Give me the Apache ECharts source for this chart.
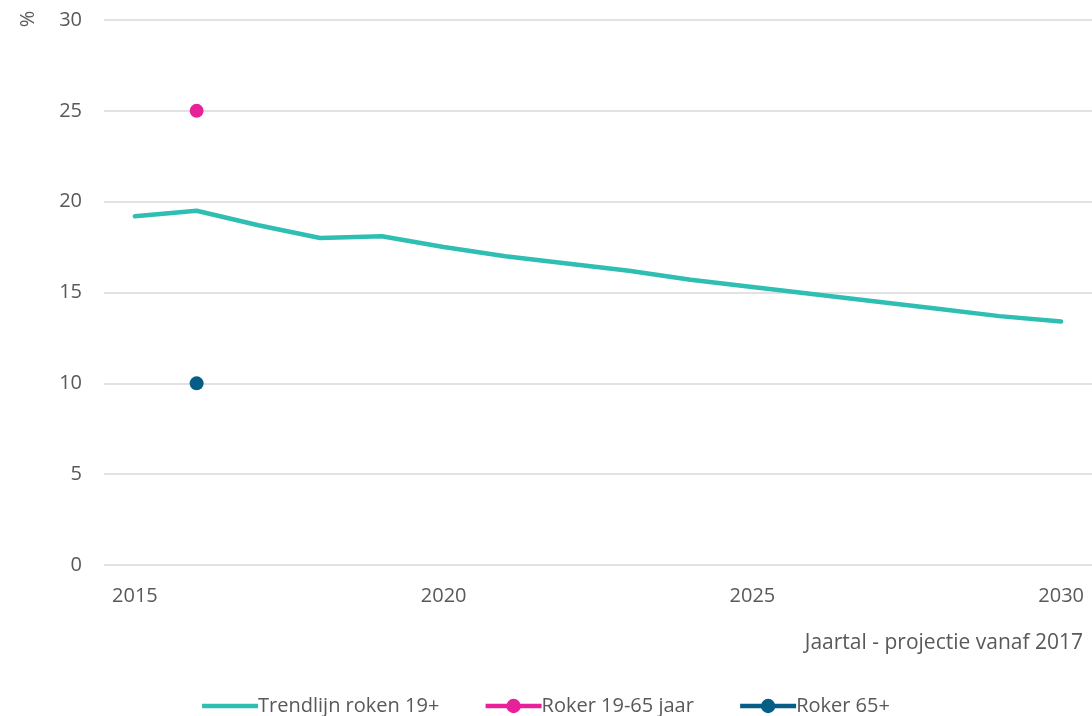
<!DOCTYPE html>
<html>
<head>
<meta charset="utf-8">
<script src="https://cdn.jsdelivr.net/npm/echarts@6/dist/echarts.min.js"></script>
<style>html,body{margin:0;padding:0;background:#fff}#c{width:1092px;height:716px}</style>
</head>
<body>
<div id="c"></div>
<script>
const years = ['2015','2016','2017','2018','2019','2020','2021','2022','2023','2024','2025','2026','2027','2028','2029','2030'];
const trend = [19.2, 19.5, 18.7, 18.0, 18.1, 17.5, 17.0, 16.6, 16.2, 15.7, 15.3, 14.9, 14.5, 14.1, 13.7, 13.4];
const roker1965 = [null, 25, null, null, null, null, null, null, null, null, null, null, null, null, null, null];
const roker65 = [null, 10, null, null, null, null, null, null, null, null, null, null, null, null, null, null];
const yTicks = {min: 0, max: 30, interval: 5};
const FONT = "'Open Sans', sans-serif";
const TXT = '#595959';
const chart = echarts.init(document.getElementById('c'));
chart.setOption({
  animation: false,
  textStyle: {fontFamily: FONT},
  grid: {left: 104, right: -6, top: 20, bottom: 151, containLabel: false},
  title: {text: 'Jaartal - projectie vanaf 2017', right: 4, top: 628,
    textStyle: {fontFamily: FONT, fontSize: 21, fontWeight: 'normal', color: TXT}},
  graphic: [{type: 'text', x: 28, y: 19, rotation: Math.PI/2,
    style: {text: '%', fontFamily: FONT, fontSize: 20, fill: TXT, align: 'center', verticalAlign: 'middle'}}],
  legend: {bottom: -5, left: 'center', itemWidth: 56, itemHeight: 18, itemGap: 44,
    lineStyle: {width: 4.5},
    textStyle: {fontFamily: FONT, fontSize: 20, color: TXT, padding: [0,0,0,-5]},
    data: [
      {name: 'Trendlijn roken 19+', icon: 'path://M0,0 L56,0 L56,4.5 L0,4.5 Z'},
      'Roker 19-65 jaar', 'Roker 65+']},
  xAxis: {type: 'category', data: years, boundaryGap: true,
    axisLine: {show: false}, axisTick: {show: false},
    axisLabel: {interval: 4, color: TXT, fontSize: 20, margin: 21, fontFamily: FONT}},
  yAxis: {type: 'value', min: yTicks.min, max: yTicks.max, interval: yTicks.interval,
    axisLine: {show: false}, axisTick: {show: false},
    axisLabel: {color: TXT, fontSize: 20, margin: 22, fontFamily: FONT},
    splitLine: {lineStyle: {color: '#d9d9d9', width: 1.5}}},
  series: [
    {name: 'Trendlijn roken 19+', type: 'line', data: trend, symbol: 'none',
      lineStyle: {color: '#2FBEB2', width: 4.5, cap: 'round'}, itemStyle: {color: '#2FBEB2'}},
    {name: 'Roker 19-65 jaar', type: 'line', data: roker1965, symbol: 'circle', symbolSize: 14,
      itemStyle: {color: '#E8209A'}, lineStyle: {color: '#E8209A', width: 4.5}},
    {name: 'Roker 65+', type: 'line', data: roker65, symbol: 'circle', symbolSize: 14,
      itemStyle: {color: '#065E86'}, lineStyle: {color: '#065E86', width: 4.5}}
  ]
});
</script>
</body>
</html>
